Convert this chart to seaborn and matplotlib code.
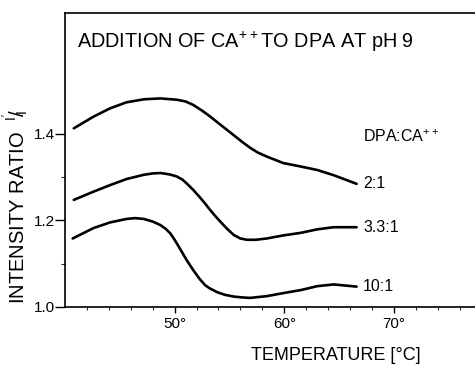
import matplotlib
matplotlib.use("Agg")
import matplotlib.pyplot as plt
import seaborn as sns
import pandas as pd

# ---- data ----
temp_2_1 = [40.8, 42.6, 44.1, 45.6, 47.2, 48.7, 50.2, 51.0, 51.7, 52.5, 53.2, 53.9, 54.7, 55.4, 56.2, 56.9, 57.6, 58.4, 59.9, 61.5, 63.0, 64.5, 66.6]
ratio_2_1 = [1.412, 1.439, 1.458, 1.472, 1.479, 1.481, 1.478, 1.474, 1.466, 1.453, 1.440, 1.426, 1.410, 1.396, 1.380, 1.367, 1.356, 1.347, 1.332, 1.324, 1.316, 1.304, 1.284]

temp_3_3_1 = [40.8, 42.6, 44.1, 45.6, 47.2, 48.0, 48.7, 49.5, 50.2, 50.7, 51.1, 51.7, 52.3, 52.8, 53.2, 53.7, 54.2, 54.8, 55.4, 56.0, 56.6, 57.4, 58.4, 59.9, 61.5, 63.0, 64.5, 66.6]
ratio_3_3_1 = [1.247, 1.266, 1.281, 1.295, 1.305, 1.308, 1.309, 1.306, 1.301, 1.294, 1.285, 1.270, 1.253, 1.238, 1.225, 1.210, 1.196, 1.180, 1.166, 1.158, 1.155, 1.155, 1.158, 1.165, 1.171, 1.179, 1.184, 1.184]

temp_10_1 = [40.7, 42.6, 44.1, 45.6, 46.4, 47.2, 48.0, 48.7, 49.2, 49.6, 50.0, 50.5, 51.1, 51.7, 52.3, 52.8, 53.2, 53.9, 54.6, 55.4, 56.2, 56.9, 58.4, 59.9, 61.5, 63.0, 64.5, 66.6]
ratio_10_1 = [1.158, 1.182, 1.195, 1.203, 1.205, 1.203, 1.197, 1.189, 1.180, 1.170, 1.155, 1.134, 1.108, 1.085, 1.064, 1.050, 1.043, 1.034, 1.028, 1.024, 1.022, 1.021, 1.025, 1.032, 1.039, 1.048, 1.052, 1.047]

series_names = ["2:1", "3.3:1", "10:1"]
x_ticks = [50, 60, 70]
x_tick_labels = ["50°", "60°", "70°"]
y_ticks = [1.0, 1.2, 1.4]
y_tick_labels = ["1.0", "1.2", "1.4"]

df = pd.concat([
    pd.DataFrame({"T": temp_2_1, "R": ratio_2_1, "ratio": series_names[0]}),
    pd.DataFrame({"T": temp_3_3_1, "R": ratio_3_3_1, "ratio": series_names[1]}),
    pd.DataFrame({"T": temp_10_1, "R": ratio_10_1, "ratio": series_names[2]}),
])

sns.set_theme(style="ticks")
plt.rcParams["font.family"] = ["Liberation Sans", "DejaVu Sans"]
plt.rcParams["mathtext.default"] = "regular"

fig = plt.figure(figsize=(4.75, 3.65), dpi=100)
ax = fig.add_axes([65 / 475, 58 / 365, 1 - 65 / 475, 294 / 365])

sns.lineplot(data=df, x="T", y="R", hue="ratio", units="ratio", estimator=None,
             palette={n: "black" for n in series_names}, linewidth=1.9,
             legend=False, sort=False, ax=ax)
for ln in ax.lines:
    ln.set_solid_joinstyle("round")
    ln.set_solid_capstyle("round")

ax.set_xlim(40, 77.4)
ax.set_ylim(1.0, 1.678)

ax.set_xticks(x_ticks)
ax.set_xticklabels(x_tick_labels)
ax.set_xticks([t for t in range(42, 78, 2) if t not in x_ticks], minor=True)
ax.set_yticks(y_ticks)
ax.set_yticklabels(y_tick_labels)
ax.set_yticks([1.1, 1.3], minor=True)

ax.tick_params(axis="both", which="major", direction="out", colors="black", labelsize=11, width=1.0)
ax.tick_params(axis="x", which="major", length=4, pad=3)
ax.tick_params(axis="y", which="major", length=7, pad=0)
ax.tick_params(axis="x", which="minor", length=2.5, width=0.8)
ax.tick_params(axis="y", which="minor", length=3, width=0.8)

for s in ["left", "bottom", "top"]:
    ax.spines[s].set_visible(True)
    ax.spines[s].set_linewidth(1.2)
    ax.spines[s].set_color("black")
ax.spines["right"].set_visible(False)

ax.set_xlabel("TEMPERATURE [°C]", fontsize=13, color="black")
ax.xaxis.set_label_coords(0.66, -0.135)
ax.set_ylabel(r"INTENSITY RATIO  $^{I'}\!/\!_{I}$", fontsize=14.5, color="black")
ax.yaxis.set_label_coords(-0.083, 0.34)

ax.text(0.03, 0.90, r"ADDITION OF CA$^{++}$TO DPA AT pH 9", transform=ax.transAxes,
        fontsize=14.3, color="black", ha="left", va="center")

ax.text(67.2, 1.392, r"DPA:CA$^{++}$", fontsize=11.5, ha="left", va="center", color="black")
label_y = [ratio_2_1[-1], ratio_3_3_1[-1], ratio_10_1[-1]]
for name, yv in zip(series_names, label_y):
    ax.text(67.2, yv, name, fontsize=11.5, ha="left", va="center", color="black")

fig.savefig("out.png", dpi=100)
